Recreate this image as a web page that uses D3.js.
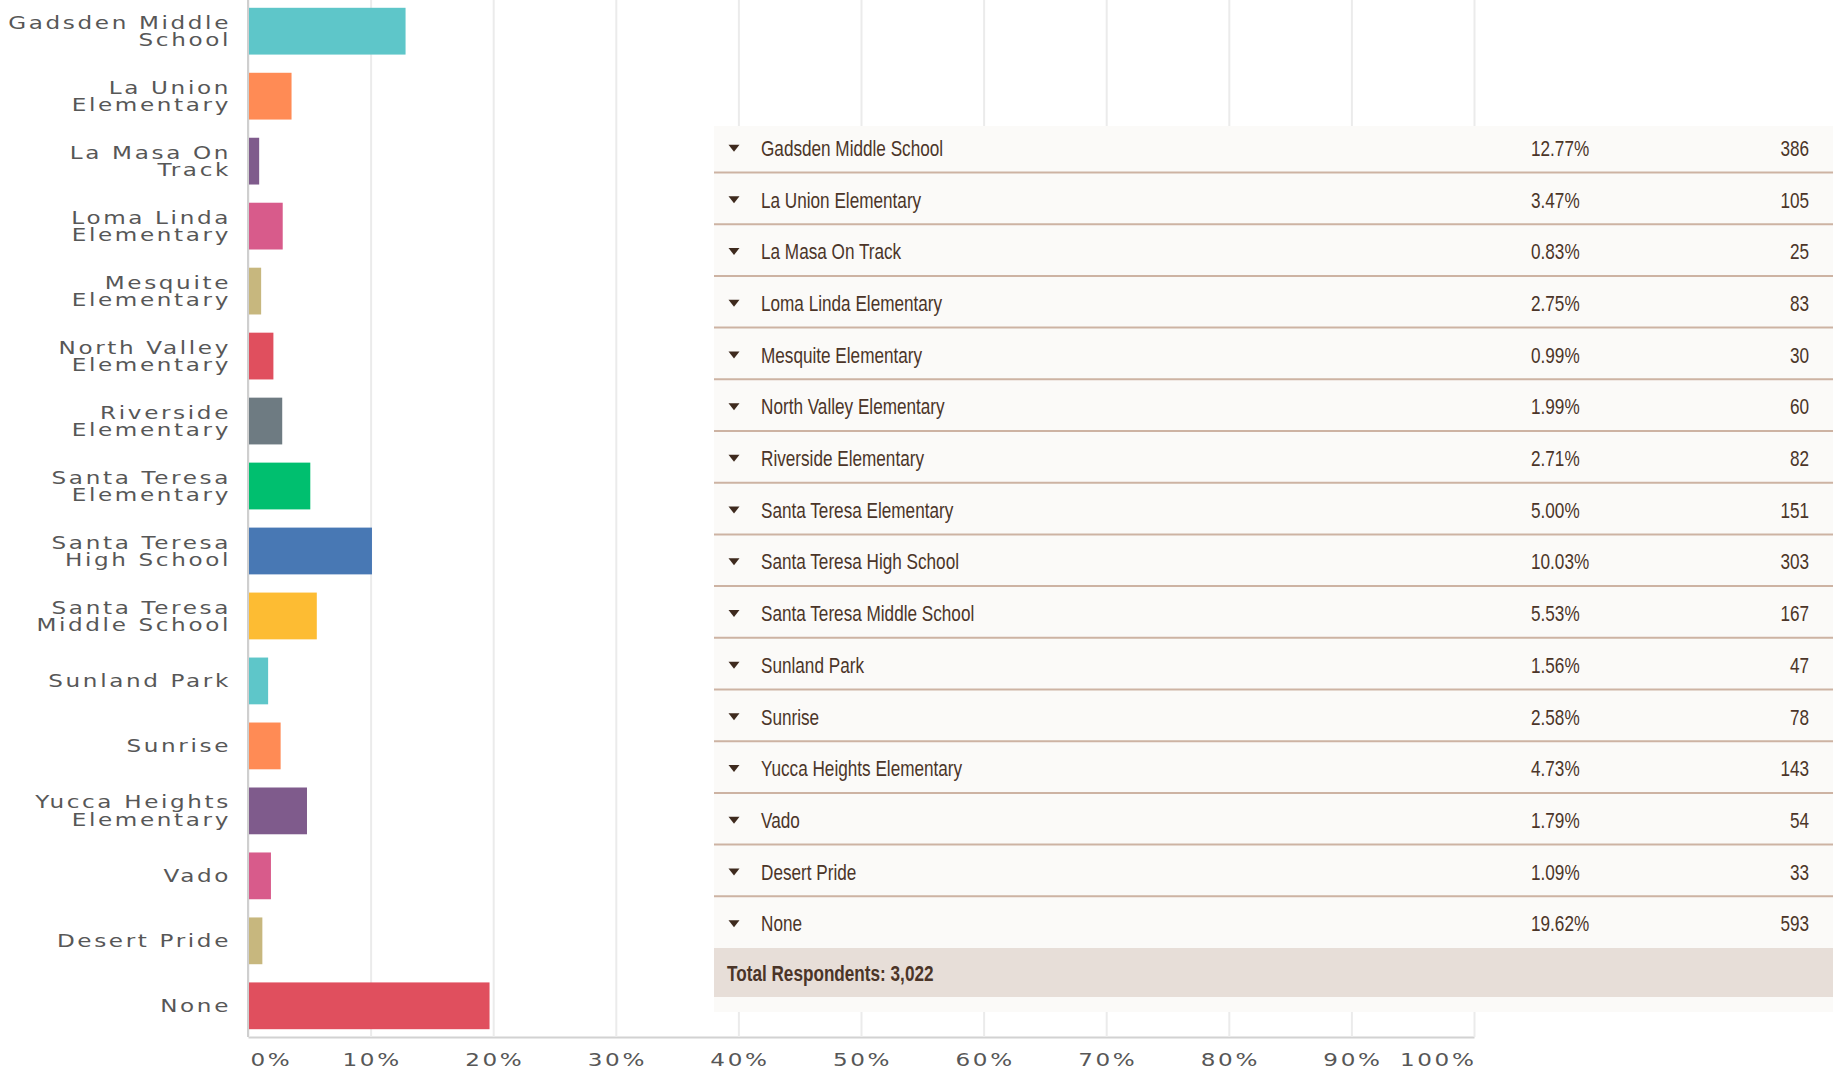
<!DOCTYPE html>
<html>
<head>
<meta charset="utf-8">
<script src="https://cdn.jsdelivr.net/npm/d3@7"></script>
<style>
  body { margin: 0; background: #fff; }
  .cat-label { font-family: 'DejaVu Sans', sans-serif; font-size: 17.5px; letter-spacing: 2px; fill: #575757; }
  .x-axis text { font-family: 'DejaVu Sans', sans-serif; font-size: 17.5px; letter-spacing: 2px; fill: #575757; }
  .tbl text { font-family: 'Liberation Sans Narrow', 'Liberation Sans', sans-serif; font-size: 22px; fill: #4b3528; }
</style>
</head>
<body>
<div id="main"></div>
<script>
var categories = ['Gadsden Middle School', 'La Union Elementary', 'La Masa On Track', 'Loma Linda Elementary',
    'Mesquite Elementary', 'North Valley Elementary', 'Riverside Elementary', 'Santa Teresa Elementary',
    'Santa Teresa High School', 'Santa Teresa Middle School', 'Sunland Park', 'Sunrise',
    'Yucca Heights Elementary', 'Vado', 'Desert Pride', 'None'];
var percents = [12.77, 3.47, 0.83, 2.75, 0.99, 1.99, 2.71, 5.00, 10.03, 5.53, 1.56, 2.58, 4.73, 1.79, 1.09, 19.62];
var counts = [386, 105, 25, 83, 30, 60, 82, 151, 303, 167, 47, 78, 143, 54, 33, 593];
var barColors = ['#5ec6c9', '#ff8b55', '#7f5b8c', '#d85b8b', '#c7b77e', '#e04f5e', '#6e7b82', '#00bf6f', '#4878b4', '#fdbc33'];
var xTicks = [0, 10, 20, 30, 40, 50, 60, 70, 80, 90, 100];
var totalRespondents = 3022;

var data = categories.map(function (c, i) {
    return {name: c, pct: percents[i], count: counts[i]};
});

var margin = {top: 0, left: 248};
var width = 1226, height = 1037;
var labelScale = 1.32;   // wide label face
var tblScale = 0.78;     // condensed table face

var svg = d3.select('#main').append('svg')
    .attr('width', 1833)
    .attr('height', 1072);

var g = svg.append('g')
    .attr('transform', 'translate(' + margin.left + ',' + margin.top + ')');

var x = d3.scaleLinear().domain([0, 100]).range([0, width]);
var y = d3.scaleBand()
    .domain(categories)
    .range([0, height])
    .paddingInner(0.28)
    .paddingOuter(0.12);

// grid + x axis
var xAxis = g.append('g')
    .attr('class', 'x-axis')
    .attr('transform', 'translate(0,' + height + ')')
    .call(d3.axisBottom(x).tickValues(xTicks).tickSize(-height).tickSizeOuter(0).tickPadding(17)
        .tickFormat(function (d) { return d + '%'; }));
xAxis.select('.domain').attr('stroke', '#d2d2d2').attr('stroke-width', 2);
xAxis.selectAll('.tick line').attr('stroke', '#ebebeb').attr('stroke-width', 2);
xAxis.selectAll('.tick text')
    .attr('transform', 'scale(' + labelScale + ',1)')
    .attr('text-anchor', function (d, i) {
        return i === 0 ? 'start' : (i === xTicks.length - 1 ? 'end' : 'middle');
    })
    .attr('x', function (d, i) { return i === 0 ? 1.5 : (i === xTicks.length - 1 ? 1.5 : 0.8); });

// y axis line
g.append('line')
    .attr('x1', 0).attr('x2', 0)
    .attr('y1', 0).attr('y2', height)
    .attr('stroke', '#cfcfcf')
    .attr('stroke-width', 2);

// bars
g.selectAll('rect.bar')
    .data(data)
    .enter()
    .append('rect')
    .attr('class', 'bar')
    .attr('x', x(0) + 1)
    .attr('y', function (d) { return y(d.name); })
    .attr('width', function (d) { return x(d.pct) - x(0); })
    .attr('height', y.bandwidth())
    .attr('fill', function (d, i) { return barColors[i % barColors.length]; });

// category labels, wrapped
var labels = g.selectAll('text.cat-label')
    .data(data)
    .enter()
    .append('text')
    .attr('class', 'cat-label')
    .attr('text-anchor', 'end')
    .attr('transform', function (d) {
        return 'translate(-17,' + (y(d.name) + y.bandwidth() / 2) + ') scale(' + labelScale + ',1)';
    });

labels.each(function (d) {
    var text = d3.select(this);
    var words = d.name.split(' ');
    var lines = [];
    var line = [];
    var tmp = text.append('tspan');
    words.forEach(function (w) {
        line.push(w);
        tmp.text(line.join(' '));
        if (tmp.node().getComputedTextLength() * labelScale > 232 && line.length > 1) {
            line.pop();
            lines.push(line.join(' '));
            line = [w];
        }
    });
    lines.push(line.join(' '));
    tmp.remove();
    lines.forEach(function (l, i) {
        text.append('tspan')
            .attr('x', 0)
            .attr('y', (i - (lines.length - 1) / 2) * 17.5)
            .attr('dy', '0.36em')
            .text(l);
    });
});

// data table
var tbl = svg.append('g').attr('class', 'tbl');
var tblLeft = 714, tblRight = 1833;
var rowY = d3.scaleBand().domain(categories).range([120.8, 948]);

tbl.append('rect')
    .attr('x', tblLeft).attr('y', 126)
    .attr('width', tblRight - tblLeft)
    .attr('height', 1012 - 126)
    .attr('fill', '#fbfaf8');

var rows = tbl.selectAll('g.row')
    .data(data)
    .enter()
    .append('g')
    .attr('class', 'row')
    .attr('transform', function (d) { return 'translate(0,' + (rowY(d.name) + rowY.bandwidth() / 2 + 1.5) + ')'; });

rows.filter(function (d, i) { return i < data.length - 1; })
    .append('line')
    .attr('x1', tblLeft).attr('x2', tblRight)
    .attr('y1', rowY.bandwidth() / 2 - 1.5).attr('y2', rowY.bandwidth() / 2 - 1.5)
    .attr('stroke', '#cdb3a3')
    .attr('stroke-width', 2);

rows.append('path')
    .attr('d', 'M-5.5,-3.5L5.5,-3.5L0,3.5Z')
    .attr('transform', 'translate(734,0)')
    .attr('fill', '#3e2a1e');

function cell(sel, xPos, anchor, fn) {
    sel.append('text')
        .attr('transform', 'translate(' + xPos + ',0) scale(' + tblScale + ',1)')
        .attr('dy', '0.35em')
        .attr('text-anchor', anchor)
        .text(fn);
}
cell(rows, 761, 'start', function (d) { return d.name; });
cell(rows, 1531, 'start', function (d) { return d.pct.toFixed(2) + '%'; });
cell(rows, 1809, 'end', function (d) { return d.count; });

tbl.append('rect')
    .attr('x', tblLeft).attr('y', 948)
    .attr('width', tblRight - tblLeft)
    .attr('height', 49)
    .attr('fill', '#e7ded8');

tbl.append('text')
    .attr('transform', 'translate(727,973) scale(' + tblScale + ',1)')
    .attr('dy', '0.35em')
    .attr('font-weight', 'bold')
    .text('Total Respondents: ' + d3.format(',')(totalRespondents));
</script>
</body>
</html>
